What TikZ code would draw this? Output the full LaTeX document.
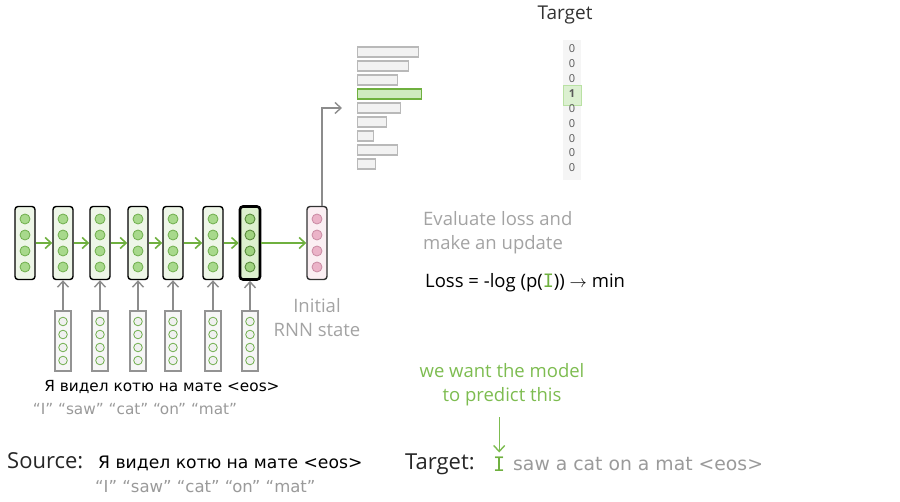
\documentclass[tikz,border=0pt]{standalone}
\usepackage{fontspec}
\setmainfont{Open Sans}
\newfontfamily\comicfont{DejaVu Sans}
\newfontfamily\codefont{DejaVu Sans Mono}
\usetikzlibrary{arrows.meta,positioning,calc}
\definecolor{rnngreen}{HTML}{6FB03F}
\definecolor{encfill}{HTML}{EEF6E8}
\definecolor{lastfill}{HTML}{DDF0CF}
\definecolor{dotfill}{HTML}{A8D98C}
\definecolor{dotline}{HTML}{6FAE4C}
\definecolor{decfill}{HTML}{FBEFF3}
\definecolor{pinkdot}{HTML}{EBB3C8}
\definecolor{pinkline}{HTML}{C98AA3}
\definecolor{labelgray}{HTML}{A3A3A3}
\definecolor{wordgray}{HTML}{9A9A9A}
\definecolor{wantgreen}{HTML}{7DBC50}
\tikzset{
  encbox/.style={draw=black,line width=1.4pt,rounded corners=3pt,fill=encfill,
    minimum width=20pt,minimum height=73pt,inner sep=0pt},
  lastbox/.style={encbox,line width=2.6pt,fill=lastfill},
  decbox/.style={encbox,draw=black!80,fill=decfill},
  inbox/.style={draw=gray!85,line width=1.3pt,fill=gray!6,
    minimum width=16pt,minimum height=60pt,inner sep=0pt},
  encdot/.style={draw=dotline,fill=dotfill,line width=0.8pt},
  lastdot/.style={draw=dotline!80!black,fill=dotfill!85!rnngreen,line width=0.9pt},
  indot/.style={draw=dotline,fill=gray!12,line width=0.8pt},
  pdot/.style={draw=pinkline,fill=pinkdot,line width=0.8pt},
  rnnarrow/.style={draw=rnngreen,line width=1.6pt,-{Straight Barb[length=6pt,width=11pt]}},
  inarrow/.style={draw=gray!90,line width=1.4pt,-{Straight Barb[length=6pt,width=11pt]}},
  probbar/.style={draw=gray!55,line width=1.2pt,fill=gray!10,minimum height=10pt,
    inner sep=0pt,anchor=west},
  probhi/.style={probbar,draw=rnngreen,fill=dotfill!55},
  digit/.style={font=\fontsize{11}{11}\selectfont,text=black!65,inner sep=0pt},
  label/.style={font=\fontsize{18.5}{24}\selectfont,text=labelgray,align=center,inner sep=0pt},
  comic/.style={font=\comicfont\fontsize{15.3}{16}\selectfont,inner sep=0pt},
  header/.style={font=\fontsize{22}{22}\selectfont,anchor=west,inner sep=0pt,text=black!85},
}
\begin{document}
\begin{tikzpicture}[x=1pt,y=-1pt]
\useasboundingbox (0,0) rectangle (900,502);
% encoder states
\foreach \i/\x in {1/25,2/63,3/100,4/138,5/173,6/213}{
  \node[encbox] (enc\i) at (\x,243) {};
  \foreach \d in {-24,-8,8,24} \draw[encdot] (\x,243+\d) circle(5pt);}
\node[lastbox] (enc7) at (250,243) {};
\foreach \d in {-24,-8,8,24} \draw[lastdot] (250,243+\d) circle(5pt);
% decoder state
\node[decbox] (dec) at (317,243) {};
\foreach \d in {-24,-8,8,24} \draw[pdot] (317,243+\d) circle(5pt);
\foreach \i [evaluate=\i as \j using int(\i+1)] in {1,...,6}
  \draw[rnnarrow] (enc\i) -- (enc\j);
\draw[rnnarrow] (enc7) -- (dec);
% embeddings
\foreach \i/\x in {2/63,3/100,4/138,5/173,6/213,7/250}{
  \node[inbox] (in\i) at (\x,341) {};
  \foreach \d in {-19.5,-6.5,6.5,19.5} \draw[indot] (\x,341+\d) circle(4.3pt);
  \draw[inarrow] (in\i) -- (enc\i);}
% output distribution
\foreach \i/\w/\s in {1/61/probbar,2/51/probbar,3/40/probbar,4/64/probhi,5/43/probbar,
  6/29/probbar,7/16/probbar,8/40/probbar,9/18/probbar}
  \node[\s,minimum width=\w pt] (bar\i) at (357,{52+14*(\i-1)}) {};
\draw[inarrow] ([xshift=5pt]dec.north) |- ([xshift=-15pt]bar5.west);
% target one-hot
\fill[gray!8] (563,40) rectangle (581,180);
\fill[dotfill!40,draw=dotfill!80] (563,85) rectangle (581,105);
\foreach \i/\v in {1/0,2/0,3/0,4/\textbf{1},5/0,6/0,7/0,8/0,9/0}
  \node[digit] (t\i) at (572,{49+14.85*(\i-1)}) {\v};
\node[font=\fontsize{19}{19}\selectfont,text=black!80,inner sep=0pt] (target) at (565,15) {Target};
% texts
\node[label] (init) at (317,318) {Initial\\RNN state};
\node[label,align=left,anchor=north west] (evaluate) at (423,211) {Evaluate loss and\\make an update};
\node[font=\fontsize{18.5}{18.5}\selectfont,anchor=west,inner sep=0pt] (loss) at (425,283)
  {Loss = -log (p({\codefont\color{rnngreen}I})) $\rightarrow$ min};
\node[label,text=wantgreen] (want) at (502,385) {we want the model\\to predict this};
\node[comic] (src) at (162,387) {Я видел котю на мате <eos>};
\node[comic,text=wordgray] (srcw) at (135,409) {“I” “saw” “cat” “on” “mat”};
% bottom line
\node[header] (source) at (7,461) {Source:};
\node[comic,font=\comicfont\fontsize{17.2}{18}\selectfont,anchor=west] (srcb) at (98,463) {Я видел котю на мате <eos>};
\node[comic,font=\comicfont\fontsize{16.5}{18}\selectfont,text=wordgray,anchor=west] (srcbw) at (95,487) {“I” “saw” “cat” “on” “mat”};
\node[header] (tgt) at (405,464) {Target:};
\node[font=\codefont\fontsize{20}{20}\selectfont,text=rnngreen,anchor=west,inner sep=0pt] (tgtI) at (493,464) {I};
\node[comic,font=\comicfont\fontsize{18.8}{20}\selectfont,text=wordgray,anchor=west] (tgtw) at (513,464) {saw a cat on a mat <eos>};
\draw[rnnarrow,draw=wantgreen,line width=1.4pt] (want.south -| tgtI) ++(0,11) -- ([yshift=4pt]tgtI.north);
\end{tikzpicture}
\end{document}
